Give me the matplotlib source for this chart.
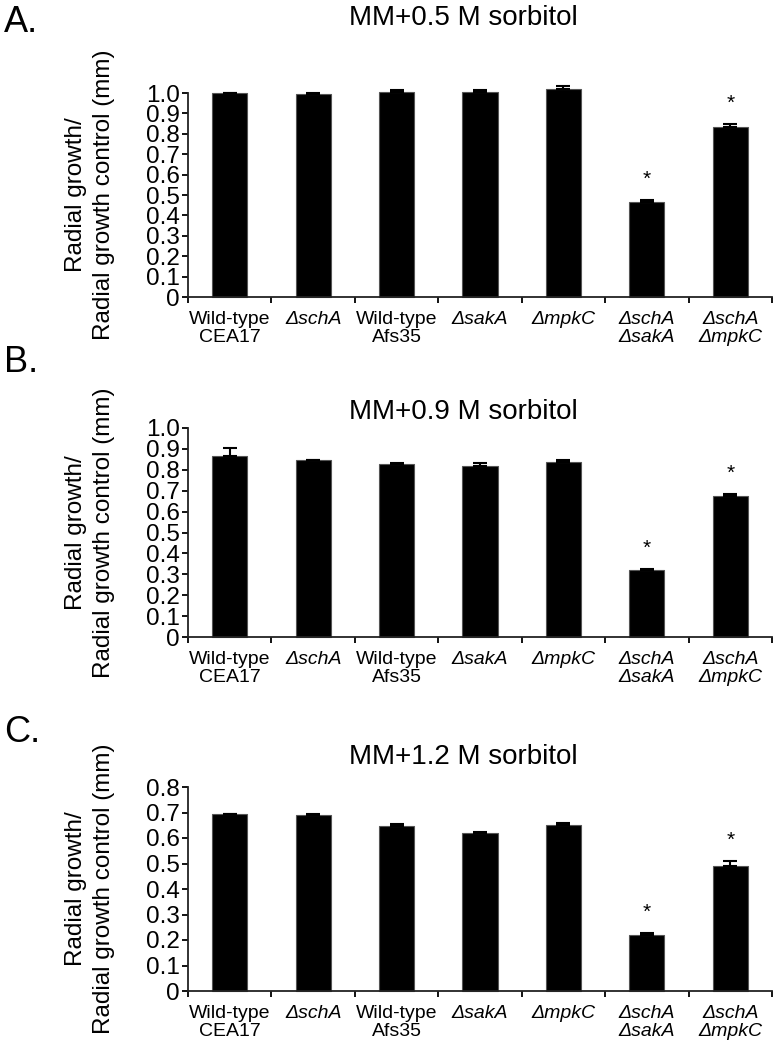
import matplotlib
matplotlib.use("Agg")
import matplotlib.pyplot as plt
import numpy as np

plt.rcParams['font.family'] = ['Liberation Sans', 'DejaVu Sans']

categories = ["Wild-type\nCEA17", "\u0394schA", "Wild-type\nAfs35", "\u0394sakA",
              "\u0394mpkC", "\u0394schA\n\u0394sakA", "\u0394schA\n\u0394mpkC"]
italic_flags = [False, True, False, True, True, True, True]

titles = ["MM+0.5 M sorbitol", "MM+0.9 M sorbitol", "MM+1.2 M sorbitol"]
panel_letters = ["A.", "B.", "C."]

values_a = [1.000, 0.995, 1.006, 1.006, 1.018, 0.467, 0.834]
errors_a = [0.000, 0.006, 0.010, 0.010, 0.017, 0.007, 0.014]
values_b = [0.868, 0.848, 0.826, 0.820, 0.835, 0.320, 0.675]
errors_b = [0.034, 0.000, 0.006, 0.012, 0.012, 0.003, 0.007]
values_c = [0.696, 0.689, 0.646, 0.621, 0.650, 0.221, 0.492]
errors_c = [0.000, 0.006, 0.010, 0.003, 0.010, 0.007, 0.016]
signif = [False, False, False, False, False, True, True]

ylims = [1.0, 1.0, 0.8]
yticks_list = [np.round(np.arange(0, 1.01, 0.1), 1), np.round(np.arange(0, 1.01, 0.1), 1),
               np.round(np.arange(0, 0.81, 0.1), 1)]

W, H = 777, 1050
fig = plt.figure(figsize=(W / 100, H / 100), dpi=100)

# pixel layout: (axes top px, axes bottom px, title y px, letter y px)
layout = [(93, 297, 18, 23), (428, 637, 412, 363), (787, 991, 757, 732)]
left_px, right_px = 188, 772

all_vals = [values_a, values_b, values_c]
all_errs = [errors_a, errors_b, errors_c]

for i in range(3):
    top, bot, ty, ly = layout[i]
    ax = fig.add_axes([left_px / W, 1 - bot / H, (right_px - left_px) / W, (bot - top) / H])
    x = np.arange(len(categories))
    vals = all_vals[i]
    errs = all_errs[i]
    ax.bar(x, vals, width=0.42, color='black', edgecolor='#555555', linewidth=0.8,
           clip_on=False, zorder=2)
    ax.errorbar(x, vals, yerr=[np.zeros(len(errs)), errs], fmt='none', ecolor='black',
                elinewidth=1.5, capsize=5, capthick=1.5, clip_on=False, zorder=3)
    for xi, v, e, s in zip(x, vals, errs, signif):
        if s:
            ax.text(xi, v + e + 0.055 * ylims[i], "*", ha='center', va='bottom', fontsize=15)
    ax.set_xlim(-0.5, len(categories) - 0.5)
    ax.set_ylim(0, ylims[i])
    ax.spines['top'].set_visible(False)
    ax.spines['right'].set_visible(False)
    for sp in ('left', 'bottom'):
        ax.spines[sp].set_linewidth(1.3)
        ax.spines[sp].set_color('#222222')
    ax.set_yticks(yticks_list[i])
    ax.set_yticklabels(["0" if t == 0 else f"{t:.1f}" for t in yticks_list[i]], fontsize=17.5)
    ax.tick_params(axis='y', direction='out', length=4, width=1.3, pad=2)
    ax.set_xticks(np.arange(-0.5, len(categories), 1.0))
    ax.set_xticklabels([])
    ax.tick_params(axis='x', which='major', direction='out', length=4, width=1.3)
    ax.set_xticks(x, minor=True)
    ax.set_xticklabels(categories, minor=True, fontsize=14, linespacing=1.1)
    ax.tick_params(axis='x', which='minor', length=0, pad=10)
    for lbl, it in zip(ax.get_xticklabels(minor=True), italic_flags):
        lbl.set_fontstyle('italic' if it else 'normal')
        lbl.set_va('top')
    ax.set_ylabel("Radial growth/\nRadial growth control (mm)", fontsize=17.5, linespacing=1.35,
                  labelpad=22)
    fig.text(463 / W, 1 - ty / H, titles[i], ha='center', va='center', fontsize=20)
    fig.text(4 / W, 1 - ly / H, panel_letters[i], ha='left', va='center', fontsize=26)

fig.savefig("out.png", dpi=100)
